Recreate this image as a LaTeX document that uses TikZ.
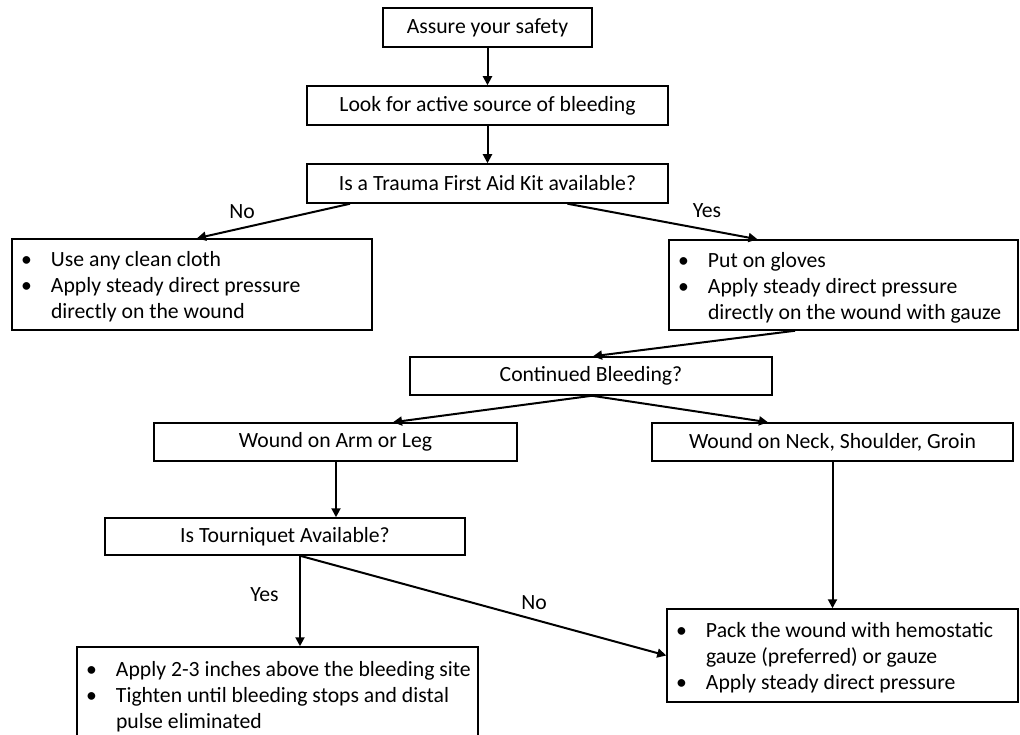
\documentclass[tikz,border=0pt]{standalone}
\usepackage{fontspec}
\setmainfont{Carlito}
\usepackage{tikz}
\usetikzlibrary{arrows.meta}
\tikzset{box/.style={draw, line width=1.5pt, inner sep=0pt, minimum height=#1}, box/.default={39pt}}
\tikzset{listbox/.style={draw, line width=1.5pt, inner xsep=2pt, inner ysep=0pt, text width=#1}}
\tikzset{flow/.style={line width=2pt, -{Triangle[length=9pt, width=9pt]}}}
\newcommand{\blist}[1]{\noindent\spaceskip=0pt\xspaceskip=0pt\begin{tabular}{@{}p{37pt}@{}l@{}}#1\end{tabular}}
\newcommand{\bul}{\hspace*{7pt}\textbullet}
\newcommand{\toprow}{\rule{0pt}{24pt}}

\begin{document}
\begin{tikzpicture}[x=1pt, y=-1pt, font=\fontsize{21.7}{26}\selectfont]
                \useasboundingbox (0,0) rectangle (1020,735);
                \node[box, minimum width=209pt] (safety) at (487.5,27.5) {Assure your safety};
                \node[box, minimum width=361pt] (look) at (487.5,105.5) {Look for active source of bleeding};
                \node[box, minimum width=361pt] (kit) at (487.5,183.5) {Is a Trauma First Aid Kit available?};
                \node[listbox=356pt, minimum height=91pt] (cloth) at (192,284.5) {\blist{\bul & \toprow Use any clean cloth\\ \bul & Apply steady direct pressure\\ & directly on the wound}};
                \node[listbox=345pt, minimum height=90pt] (gloves) at (843.5,285) {\blist{\bul & \toprow Put on gloves\\ \bul & Apply steady direct pressure\\ & directly on the wound with gauze}};
                \node[box=38pt, minimum width=362pt] (cont) at (591,376) {Continued Bleeding?};
                \node[box=38pt, minimum width=363pt] (arm) at (335.5,442) {Wound on Arm or Leg};
                \node[box=38pt, minimum width=361pt] (neck) at (832.5,442) {Wound on Neck, Shoulder, Groin};
                \node[box=37pt, minimum width=360pt] (tq) at (285,536.5) {Is Tourniquet Available?};
                \node[listbox=397pt, minimum height=94pt] (tqapply) at (277.5,694) {\blist{\bul & \toprow Apply 2-3 inches above the bleeding site\\ \bul & Tighten until bleeding stops and distal\\ & pulse eliminated}};
                \node[listbox=347pt, minimum height=93pt] (pack) at (842.5,655.5) {\blist{\bul & \toprow Pack the wound with hemostatic\\ & gauze (preferred) or gauze\\ \bul & Apply steady direct pressure}};

                \draw[flow] (safety) -- (look);
                \draw[flow] (look) -- (kit);
                \draw[flow] ([xshift=-137.5pt]kit.south) -- node[pos=0.706, anchor=base, yshift=10pt] (no1) {No} ([xshift=5pt]cloth.north);
                \draw[flow] ([xshift=80pt]kit.south) -- node[pos=0.734, anchor=base, yshift=12pt] (yes1) {Yes} ([xshift=-86pt]gloves.north);
                \draw[flow] ([xshift=-48.5pt]gloves.south) -- ([xshift=2pt]cont.north);
                \draw[flow] ([xshift=1pt]cont.south) -- ([xshift=57.5pt]arm.north);
                \draw[flow] ([xshift=1pt]cont.south) -- ([xshift=-64.5pt]neck.north);
                \draw[flow] ([xshift=0.5pt]arm.south) -- ([xshift=51pt]tq.north);
                \draw[flow] ([xshift=15pt]tq.south) -- node[pos=0.5, anchor=base east, xshift=-17pt] (yes2) {Yes} ([xshift=22.5pt]tqapply.north);
                \draw[flow] ([xshift=15pt]tq.south) -- node[pos=0.639, anchor=base, yshift=10pt] (no2) {No} (pack.west);
                \draw[flow] (neck.south) -- (neck.south |- pack.north);
            \end{tikzpicture}
\end{document}
